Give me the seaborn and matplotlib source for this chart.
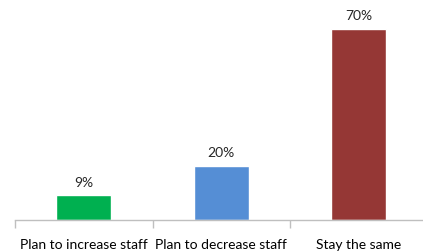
import matplotlib
matplotlib.use("Agg")
import matplotlib.pyplot as plt
import seaborn as sns
import pandas as pd

categories = ["Plan to increase staff", "Plan to decrease staff", "Stay the same"]
shares = [9, 20, 70]
colors = ["#00B050", "#558ED5", "#953735"]

sns.set_theme(style="white")
plt.rcParams["font.family"] = ["Lato", "DejaVu Sans"]

df = pd.DataFrame({"Category": categories, "Share": shares})

fig = plt.figure(figsize=(4.23, 2.52), dpi=100)
ax = fig.add_axes([15 / 423, 32 / 252, 412.5 / 423, 218 / 252])

sns.barplot(
    data=df,
    x="Category",
    y="Share",
    hue="Category",
    palette=colors,
    saturation=1,
    width=0.4,
    legend=False,
    ax=ax,
)

# value labels above each bar
for i, v in enumerate(shares):
    ax.text(i, v + 2.5, f"{v}%", ha="center", va="bottom", fontsize=10, color="#262626")

ax.set_xlim(-0.5, 2.5)
ax.set_ylim(0, 80)
ax.set_xlabel("")
ax.set_ylabel("")
ax.set_yticks([])
ax.set_xticks([-0.5, 0.5, 1.5, 2.5], minor=True)
ax.tick_params(axis="x", which="minor", length=6, width=1, color="#bfbfbf", direction="out", bottom=True)
ax.tick_params(axis="x", which="major", length=0, pad=14, labelsize=10, labelcolor="#000000")

for side in ["top", "right", "left"]:
    ax.spines[side].set_visible(False)
ax.spines["bottom"].set_color("#bfbfbf")
ax.spines["bottom"].set_linewidth(1)

fig.savefig("out.png", dpi=100)
